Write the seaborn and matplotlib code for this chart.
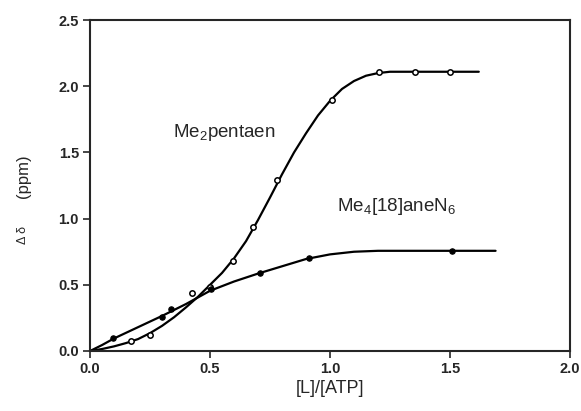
import matplotlib
matplotlib.use("Agg")
import matplotlib.pyplot as plt
import seaborn as sns
import pandas as pd

# Measured chemical-shift changes vs. ligand/ATP ratio
pent_x = [0.17, 0.25, 0.426, 0.50, 0.597, 0.678, 0.778, 1.008, 1.206, 1.354, 1.50]
pent_y = [0.073, 0.123, 0.44, 0.48, 0.68, 0.94, 1.29, 1.90, 2.11, 2.11, 2.11]
hexa_x = [0.097, 0.301, 0.336, 0.503, 0.708, 0.9125, 1.507]
hexa_y = [0.10, 0.255, 0.32, 0.47, 0.59, 0.70, 0.757]

# Fitted titration curves
pent_fit_x = [0, 0.05, 0.1, 0.15, 0.2, 0.25, 0.3, 0.35, 0.4, 0.45, 0.5, 0.55, 0.6,
              0.65, 0.7, 0.75, 0.8, 0.85, 0.9, 0.95, 1.0, 1.05, 1.1, 1.15, 1.2,
              1.25, 1.3, 1.62]
pent_fit_y = [0, 0.015, 0.035, 0.06, 0.09, 0.135, 0.19, 0.255, 0.33, 0.41, 0.50,
              0.59, 0.70, 0.83, 0.99, 1.16, 1.335, 1.50, 1.645, 1.78, 1.89, 1.98,
              2.04, 2.08, 2.10, 2.11, 2.11, 2.11]
hexa_fit_x = [0, 0.05, 0.1, 0.2, 0.3, 0.4, 0.5, 0.6, 0.7, 0.8, 0.9, 1.0, 1.1,
              1.2, 1.3, 1.69]
hexa_fit_y = [0, 0.045, 0.095, 0.18, 0.265, 0.355, 0.455, 0.525, 0.585, 0.64,
              0.695, 0.73, 0.75, 0.757, 0.757, 0.757]

x_ticks = [0.0, 0.5, 1.0, 1.5, 2.0]
y_ticks = [0.0, 0.5, 1.0, 1.5, 2.0, 2.5]

sns.set_style("ticks")
plt.rcParams["font.family"] = ["Liberation Sans", "DejaVu Sans"]
plt.rcParams["mathtext.fontset"] = "custom"
plt.rcParams["mathtext.rm"] = "Liberation Sans"
plt.rcParams["mathtext.it"] = "Liberation Sans:italic"

fig = plt.figure(figsize=(5.81, 4.11), dpi=100)
ax = fig.add_axes([0.155, 0.146, 0.826, 0.805])

fits = pd.DataFrame({"x": pent_fit_x, "y": pent_fit_y})
fith = pd.DataFrame({"x": hexa_fit_x, "y": hexa_fit_y})
sns.lineplot(data=fits, x="x", y="y", ax=ax, color="black", lw=1.6, sort=False,
             estimator=None)
sns.lineplot(data=fith, x="x", y="y", ax=ax, color="black", lw=1.6, sort=False,
             estimator=None)

ptp = pd.DataFrame({"x": pent_x, "y": pent_y})
pth = pd.DataFrame({"x": hexa_x, "y": hexa_y})
sns.scatterplot(data=ptp, x="x", y="y", ax=ax, marker="o", s=15,
                facecolor="white", edgecolor="black", linewidth=1.1, zorder=3)
sns.scatterplot(data=pth, x="x", y="y", ax=ax, marker="o", s=15,
                color="black", edgecolor="black", linewidth=0.8, zorder=3)

ax.set_xlim(0, 2.0)
ax.set_ylim(0, 2.5)
ax.set_xticks(x_ticks)
ax.set_yticks(y_ticks)
ax.set_xticklabels([f"{v:.1f}" for v in x_ticks], fontsize=10.5, fontweight="bold")
ax.set_yticklabels([f"{v:.1f}" for v in y_ticks], fontsize=10.5, fontweight="bold")
ax.tick_params(direction="out", length=5, width=1.2, pad=3)
for side in ["left", "right", "top", "bottom"]:
    ax.spines[side].set_visible(True)
    ax.spines[side].set_linewidth(1.5)

ax.set_xlabel("[L]/[ATP]", fontsize=13, labelpad=3)
ax.set_ylabel("")
# y-axis title: small delta symbol below the unit
fig.text(24 / 581, 1 - 176 / 411, "(ppm)", rotation=90, fontsize=12,
         ha="center", va="center")
fig.text(23 / 581, 1 - 235 / 411, "\u0394 \u03b4", rotation=90, fontsize=9,
         ha="center", va="center")

ax.text(0.346, 1.65, r"Me$_2$pentaen", fontsize=13.5, va="center", ha="left")
ax.text(1.03, 1.09, r"Me$_4$[18]aneN$_6$", fontsize=13.5, va="center", ha="left")

fig.savefig("out.png", dpi=100)
